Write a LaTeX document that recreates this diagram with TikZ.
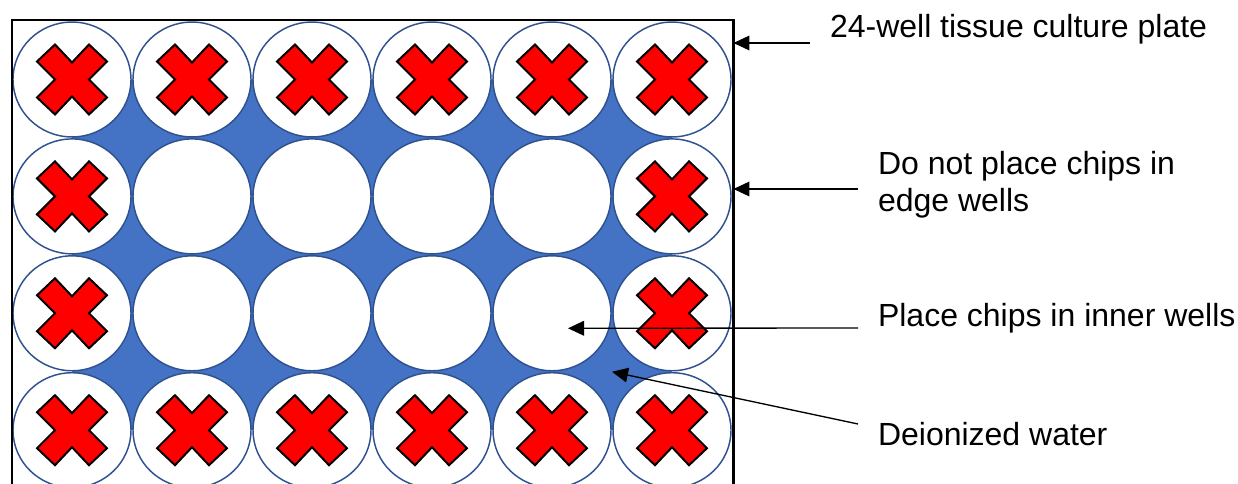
\documentclass[tikz,border=0pt]{standalone}
\usepackage{fontspec}
\setmainfont{Liberation Sans}
\usetikzlibrary{arrows.meta,shapes.geometric,calc}
\definecolor{water}{HTML}{4472C4}
\definecolor{rim}{HTML}{2F528F}
\definecolor{cross}{HTML}{FF0000}
\tikzset{
  well/.style={ellipse, draw=rim, line width=1.1pt, fill=white,
    minimum width=88.5pt, minimum height=86.2pt, inner sep=0pt},
  plateframe/.style={draw=black, line width=1.7pt, inner sep=0pt, outer sep=0pt,
    minimum width=541.1pt, minimum height=360pt, anchor=north west},
  xmark/.style={fill=cross, draw=black, line width=1.5pt, line join=miter},
  lbl/.style={font=\fontsize{24}{27.75}\selectfont, inner sep=0pt, outer sep=0pt},
  pointer/.style={draw=black, line width=1pt, -{Triangle[length=12pt,width=11pt]}}
}
\begin{document}
\begin{tikzpicture}[x=0.75pt, y=-0.75pt]
\useasboundingbox (0,0) rectangle (1238,484);

% water between the wells
\fill[water] (72,79.5) rectangle (672,430.2);

% the 4 x 6 wells
\foreach \r in {1,...,4} {
  \foreach \c in {1,...,6} {
    \node[well] (w\r\c) at ({72+120*(\c-1)},{79.5+116.9*(\r-1)}) {};
  }
}

% plate outline
\node[plateframe] (plate) at (12,20) {};

% red crosses on the edge wells
\foreach \w in {11,12,13,14,15,16,21,26,31,36,41,42,43,44,45,46} {
  \draw[xmark, shift={(w\w.center)}]
    (0,-17) -- (17,-35) -- (35,-18) -- (17,0) -- (35,18) -- (17,35) --
    (0,17) -- (-17,35) -- (-35,18) -- (-17,0) -- (-35,-18) -- (-17,-35) -- cycle;
}

% labels
\node[lbl, anchor=base west] (t1) at (830,38) {24-well tissue culture plate};
\node[lbl, anchor=base west] (t2) at (878,175) {Do not place chips in};
\node[lbl, anchor=base west] (t2b) at (878,212) {edge wells};
\node[lbl, anchor=base west] (t3) at (878,327) {Place chips in inner wells};
\node[lbl, anchor=base west] (t4) at (878,445) {Deionized water};

% pointer tails and tips
\coordinate (s1) at (810,43);
\coordinate (s2) at (858,189);
\coordinate (s3) at (858,328);
\coordinate (s4) at (858,424);
\coordinate (e3) at ($(w35.center)+(16,15)$);
\coordinate (e4) at ($(w35.center)!0.5!(w46.center)$);

\draw[pointer] (s1) -- (s1 -| plate.east);
\draw[pointer] (s2) -- (s2 -| plate.east);
\draw[pointer] (s3) -- (e3);
\draw[pointer] (s4) -- (e4);
\end{tikzpicture}
\end{document}
